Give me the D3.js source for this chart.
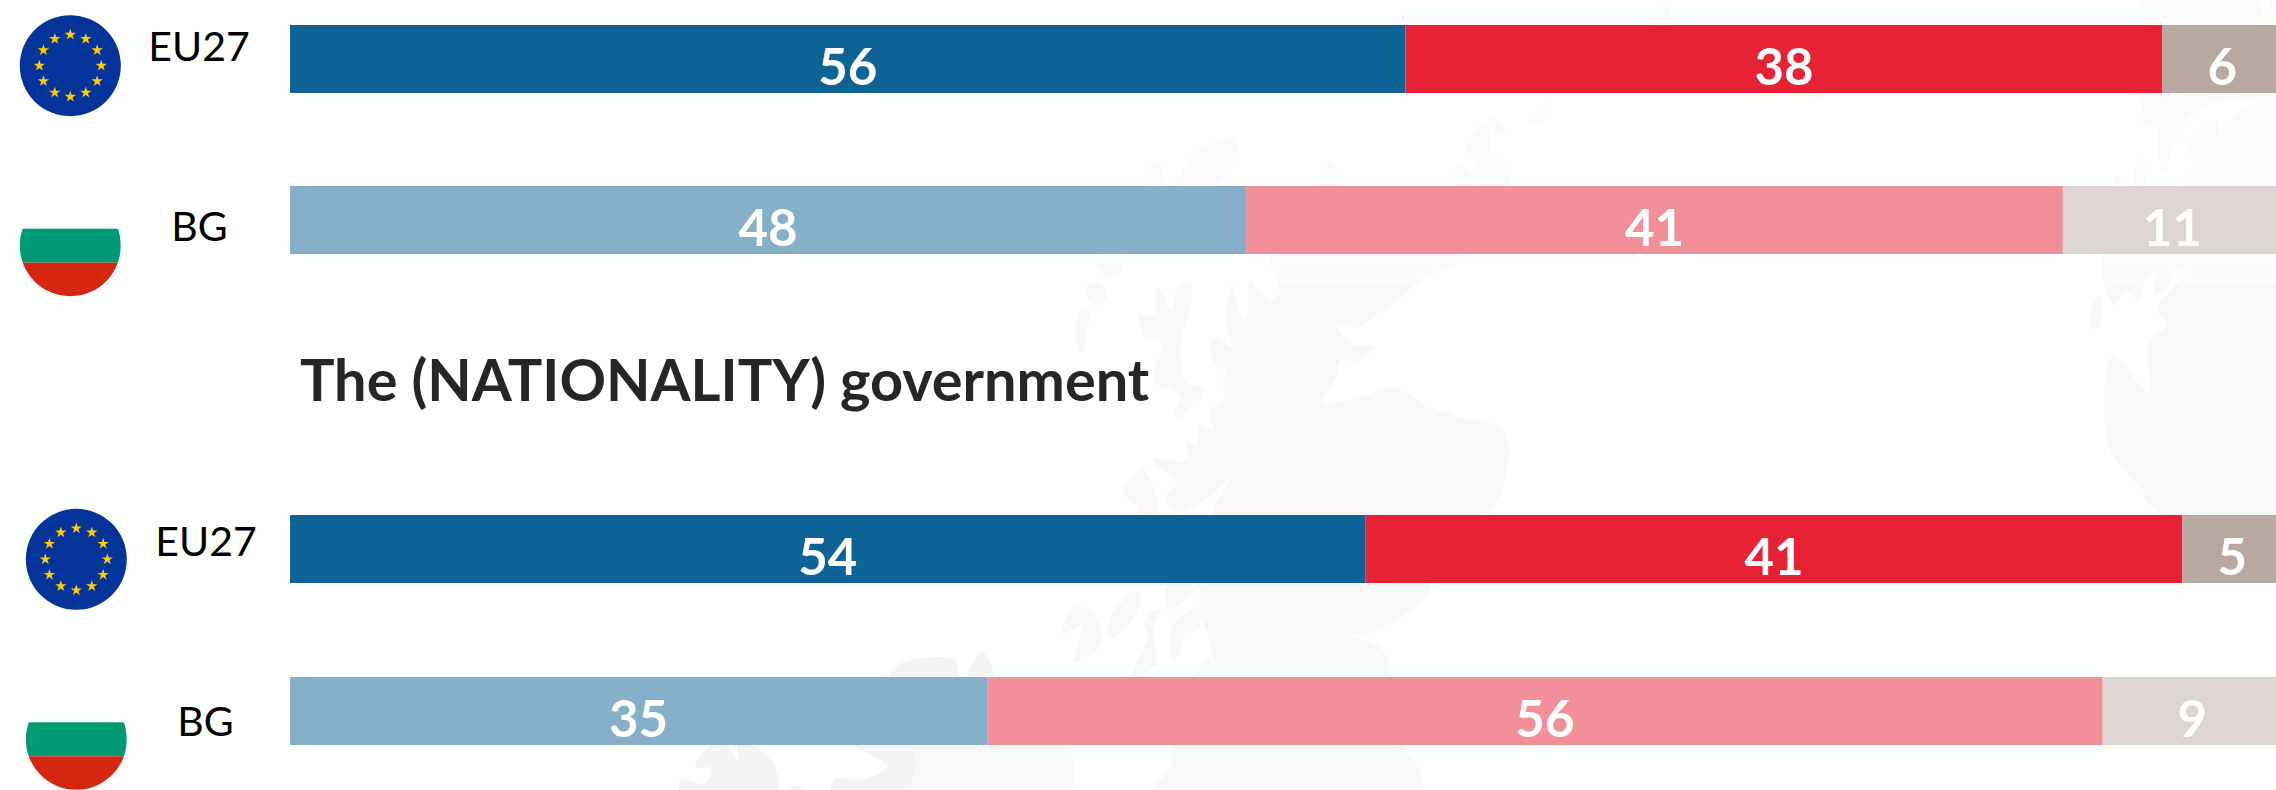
<!DOCTYPE html>
<html>
<head>
<meta charset="utf-8">
<script src="https://cdn.jsdelivr.net/npm/d3@7"></script>
<style>
  html, body { margin: 0; padding: 0; background: #fff; overflow: hidden; }
  svg { display: block; }
  text { font-family: Lato, "Open Sans", sans-serif; }
</style>
</head>
<body>
<svg id="chart" width="2276" height="790"></svg>
<script>
// values
const rowIds = ["party-eu", "party-bg", "gov-eu", "gov-bg"];
const rowLabels = ["EU27", "BG", "EU27", "BG"];
const rowFlags = ["eu", "bg", "eu", "bg"];
const trust = [56, 48, 54, 35];
const distrust = [38, 41, 41, 56];
const dontKnow = [6, 11, 5, 9];
const seriesKeys = ["trust", "distrust", "dontKnow"];
const titleText = "The (NATIONALITY) government";

// layout
const rowTops = [25, 186, 515, 677];
const flagCenters = [[70.3, 65.7], [70.3, 245.7], [76.3, 559.3], [76.3, 739.3]];
const labelCenters = [199, 199.5, 206, 205.5];
const labelBaselines = [61, 241, 556, 736];
const barHeight = 68;

const strongColors = ["#0c6394", "#e72234", "#b7a8a0"];
const paleColors = ["#86afc9", "#f19099", "#ddd5d1"];

const frames = {
    full: [0, 0, 1, 1],
    z3: [1000, 0, 0.8138, 1 / 1.985],
    z5: [960, 90, 1 / 3, 1 / 3],
    z6: [1900, 0, 1 / 3, 1 / 3],
    z7: [640, 580, 1 / 2.45, 1 / 3]
};
const mapLight = [
    ["z5", [[930,480],[960,600],[940,630],[900,610],[870,575],[862,680],[850,690],[815,585],[805,620],[795,700],[815,770],[760,745],[755,800],[770,835],[793,835],[790,880],[790,930],[750,965],[758,1020],[720,1005],[708,1065],[682,1055],[685,1110],[580,1110],[650,1180],[618,1220],[650,1268],[700,1250],[760,1210],[810,1165],[760,1285],[1548,1285],[1621,1211],[1633,1022],[1490,980],[1390,940],[1300,895],[1190,925],[1085,935],[1130,860],[1140,815],[1200,810],[1240,770],[1180,765],[1130,705],[1190,715],[1240,680],[1300,640],[1400,560],[1500,520],[1530,480]]],
    ["z5", [[538,675],[585,680],[590,600],[600,595],[635,660],[650,600],[690,570],[695,630],[665,740],[660,790],[685,880],[728,890],[725,925],[690,950],[670,980],[640,975],[662,925],[640,900],[585,880],[590,820],[603,790],[595,745],[555,745],[540,710]]],
    ["z5", [[380,585],[425,583],[440,625],[415,645],[390,630]]],
    ["z5", [[358,668],[392,665],[378,730],[373,780],[358,785],[348,730]]],
    ["z5", [[400,480],[485,480],[483,545],[440,560]]],
    ["z5", [[490,1210],[550,1140],[595,1285],[535,1285],[530,1250]]],
    ["z5", [[660,295],[690,200],[760,160],[830,143],[825,200],[760,295]]],
    ["z5", [[565,295],[553,240],[600,212],[605,265],[625,295]]],
    ["z5", [[1070,295],[1105,212],[1125,230],[1135,295]]],
    ["z5", [[1480,240],[1510,232],[1535,295],[1495,295]]],
    ["z5", [[1580,105],[1530,145],[1522,185],[1580,190]]],
    ["z3", [[650,240],[662,215],[680,203],[668,235],[655,247]]],
    ["z3", [[605,232],[620,250],[620,265],[610,265]]],
    ["z3", [[575,295],[590,250],[600,295],[622,330],[625,375],[590,375],[585,335]]],
    ["z3", [[558,375],[562,330],[578,345],[580,375]]],
    ["z3", [[805,55],[813,0],[825,0],[815,55]]],
    ["z6", [[710,0],[730,25],[800,28],[800,45],[740,60],[765,80],[1070,80],[1078,0]]],
    ["z6", [[1128,50],[1110,20],[1115,0],[1135,0],[1135,50]]],
    ["z6", [[705,275],[725,320],[720,375],[770,385],[775,470],[790,515],[820,440],[860,360],[930,310],[1075,295],[1135,280],[1135,275]]],
    ["z6", [[830,565],[880,495],[858,460],[880,410],[950,358],[955,530],[960,420],[1000,350],[1078,305],[1135,290],[1135,565]]],
    ["z6", [[645,565],[650,525],[675,565]]],
    ["z6", [[705,565],[715,480],[738,480],[740,540],[725,565]]],
    ["z6", [[618,760],[620,880],[640,915],[660,890],[680,865],[715,905],[740,830],[760,825],[765,880],[800,860],[830,810],[860,815],[780,910],[775,935],[800,975],[750,1020],[745,1180],[700,1130],[640,1068],[620,1120],[612,1230],[630,1350],[700,1440],[790,1550],[1135,1550],[1135,760]]],
    ["z6", [[572,980],[575,920],[600,885],[605,920],[595,980],[580,988]]],
    ["z3", [[255,1155],[245,1210],[258,1270],[275,1350],[475,1350],[470,1290],[430,1260],[470,1250],[530,1155]]],
    ["z7", [[1295,15],[1290,80],[1310,85],[1360,30],[1390,10]]],
    ["z7", [[1390,10],[1395,130],[1430,265],[1385,245],[1365,295],[1600,295],[1600,10]]],
    ["z7", [[1035,160],[1065,80],[1110,100],[1130,190],[1065,245],[1080,140]]],
    ["z7", [[1150,170],[1150,120],[1215,30],[1225,75],[1160,175]]],
    ["z7", [[1205,285],[1245,170],[1235,120],[1280,85],[1260,130],[1260,260]]],
    ["z7", [[1300,200],[1310,130],[1370,80],[1370,140],[1330,175],[1320,225],[1305,235]]],
    ["z7", [[655,490],[1040,490],[1050,640],[620,640],[670,590]]],
    ["full", [[1175,740],[1172,765],[1152,795],[1422,795],[1394,740]]]
];
const mapDark = [
    ["z7", [[610,295],[640,250],[770,240],[775,295]]],
    ["z7", [[805,295],[838,212],[865,295]]],
    ["z7", [[100,640],[100,600],[160,610],[175,565],[135,560],[180,490],[205,490],[240,545],[240,490],[265,490],[325,545],[335,640]]],
    ["z7", [[360,640],[380,615],[410,640]]],
    ["z7", [[470,640],[480,595],[540,600],[605,560],[520,490],[655,490],[670,590],[620,640]]]
];

const svg = d3.select("#chart");
const defs = svg.append("defs");

// the map gets paler towards the top of the page
const fade = defs.append("linearGradient").attr("id", "map-fade")
    .attr("gradientUnits", "userSpaceOnUse")
    .attr("x1", 0).attr("y1", 0).attr("x2", 0).attr("y2", 790);
fade.append("stop").attr("offset", 0).attr("stop-color", "#fbfbfb");
fade.append("stop").attr("offset", 0.358).attr("stop-color", "#fafafa");
fade.append("stop").attr("offset", 0.36).attr("stop-color", "#f8f8f8");
fade.append("stop").attr("offset", 1).attr("stop-color", "#f8f8f8");

// background map
const mapLine = d3.line().curve(d3.curveCatmullRomClosed.alpha(0.5));
function mapPath(shape) {
    const f = frames[shape[0]];
    return mapLine(shape[1].map(p => [f[0] + p[0] * f[2], f[1] + p[1] * f[3]]));
}
const mapGroup = svg.append("g").attr("class", "map");
mapGroup.selectAll(".land").data(mapLight).enter().append("path")
    .attr("class", "land").attr("d", mapPath).attr("fill", "url(#map-fade)");
mapGroup.selectAll(".land-dark").data(mapDark).enter().append("path")
    .attr("class", "land-dark").attr("d", mapPath).attr("fill", "#f4f4f4");

// scales
const x = d3.scaleLinear().domain([0, 100]).range([290, 2282]);
const y = d3.scaleOrdinal().domain(rowIds).range(rowTops);

const rows = rowIds.map((id, i) => ({
    id: id, trust: trust[i], distrust: distrust[i], dontKnow: dontKnow[i]
}));
const stacked = d3.stack().keys(seriesKeys)(rows);

// bars and their value labels
stacked.forEach((layer, s) => {
    const segs = svg.append("g").attr("class", "series-" + layer.key)
        .selectAll("g").data(layer).enter().append("g");

    segs.append("rect")
        .attr("x", d => x(d[0]))
        .attr("y", d => y(d.data.id))
        .attr("width", d => x(d[1]) - x(d[0]))
        .attr("height", barHeight)
        // EU27 rows strong, country rows pale
        .attr("fill", (d, i) => (i % 2 === 0 ? strongColors : paleColors)[s]);

    segs.append("text")
        .attr("x", d => x((d[0] + d[1]) / 2))
        .attr("y", d => y(d.data.id) + 60)
        .attr("text-anchor", "middle")
        .attr("font-size", "51px")
        .attr("font-weight", "bold")
        .attr("fill", "#fff")
        .text(d => d[1] - d[0]);
});

// row labels
svg.append("g").selectAll("text").data(rowLabels).enter().append("text")
    .attr("x", (d, i) => labelCenters[i])
    .attr("y", (d, i) => labelBaselines[i])
    .attr("text-anchor", "middle")
    .attr("font-size", "41px")
    .attr("fill", "#000")
    .text(d => d);

// section title
svg.append("text")
    .attr("x", 300)
    .attr("y", 401)
    .attr("font-size", "57.7px")
    .attr("font-weight", "bold")
    .attr("fill", "#262626")
    .text(titleText);

// flags
const flagRadius = 50.5;
const star = d3.symbol(d3.symbolStar, 40);
rowFlags.forEach((flag, i) => {
    const c = flagCenters[i];
    const g = svg.append("g").attr("transform", `translate(${c[0]},${c[1]})`);
    if (flag === "eu") {
        g.append("circle").attr("r", flagRadius).attr("fill", "#04339a");
        g.selectAll("path").data(d3.range(12)).enter().append("path")
            .attr("d", star)
            .attr("fill", "#ffcc00")
            .attr("transform", d => {
                const a = d * Math.PI / 6;
                return `translate(${31 * Math.sin(a)},${-31 * Math.cos(a)})`;
            });
    } else {
        const clipId = "flag-clip-" + i;
        defs.append("clipPath").attr("id", clipId)
            .append("circle").attr("r", flagRadius);
        const clipped = g.append("g").attr("clip-path", `url(#${clipId})`);
        clipped.append("rect").attr("x", -flagRadius).attr("y", -flagRadius)
            .attr("width", flagRadius * 2).attr("height", flagRadius * 2).attr("fill", "#fff");
        clipped.append("rect").attr("x", -flagRadius).attr("y", -17)
            .attr("width", flagRadius * 2).attr("height", 34).attr("fill", "#009b74");
        clipped.append("rect").attr("x", -flagRadius).attr("y", 17)
            .attr("width", flagRadius * 2).attr("height", flagRadius).attr("fill", "#d62612");
    }
});
</script>
</body>
</html>
